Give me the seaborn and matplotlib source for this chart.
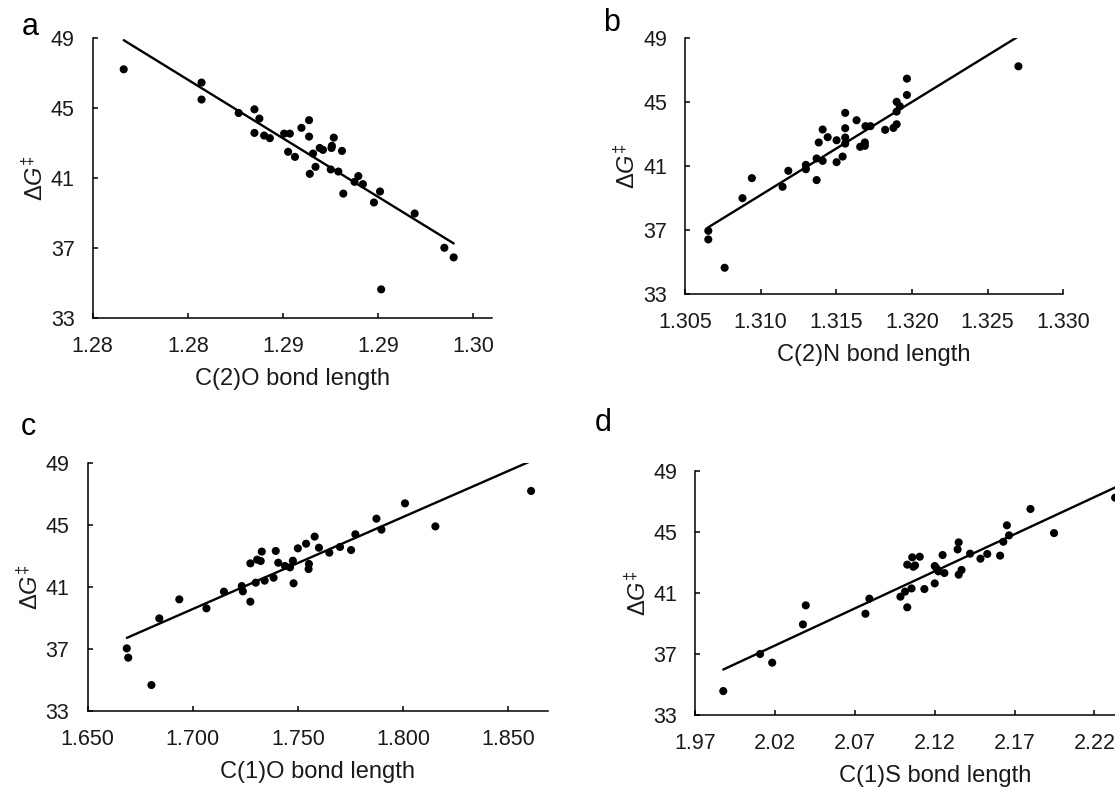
import matplotlib
matplotlib.use("Agg")
import matplotlib.pyplot as plt
import seaborn as sns
import pandas as pd

# ---------------- data ----------------
a_x = [1.27663, 1.28072, 1.28072, 1.28267, 1.28350, 1.28376, 1.28350, 1.28401, 1.28431, 1.28506,
       1.28536, 1.28527, 1.28563, 1.28597, 1.28637, 1.28637, 1.28658, 1.28641, 1.28671, 1.28693,
       1.28710, 1.28755, 1.28757, 1.28767, 1.28751, 1.28791, 1.28810, 1.28817, 1.28876, 1.28896,
       1.28920, 1.28978, 1.29010, 1.29016, 1.29192, 1.29348, 1.29397]
a_y = [47.21, 46.45, 45.48, 44.71, 44.92, 44.39, 43.57, 43.42, 43.27, 43.53,
       43.53, 42.49, 42.20, 43.86, 44.30, 43.36, 42.39, 41.23, 41.63, 42.71,
       42.60, 42.71, 42.83, 43.30, 41.48, 41.36, 42.54, 40.10, 40.77, 41.10,
       40.64, 39.59, 40.22, 34.62, 38.96, 37.00, 36.45]

b_x = [1.30654, 1.30654, 1.30762, 1.30880, 1.30942, 1.31145, 1.31183, 1.31299, 1.31299, 1.31370,
       1.31370, 1.31410, 1.31384, 1.31410, 1.31443, 1.31502, 1.31502, 1.31542, 1.31559, 1.31559,
       1.31559, 1.31559, 1.31634, 1.31658, 1.31689, 1.31689, 1.31693, 1.31726, 1.31823, 1.31878,
       1.31899, 1.31899, 1.31899, 1.31920, 1.31967, 1.31967, 1.32704]
b_y = [36.95, 36.41, 34.64, 38.99, 40.24, 39.70, 40.70, 41.07, 40.80, 40.12,
       41.47, 41.32, 42.47, 43.28, 42.80, 42.61, 41.24, 41.59, 44.32, 43.36,
       42.78, 42.40, 43.86, 42.20, 42.47, 42.26, 43.49, 43.49, 43.26, 43.38,
       43.61, 44.40, 45.01, 44.73, 45.44, 46.46, 47.23]

c_x = [1.66868, 1.66936, 1.68039, 1.68413, 1.69364, 1.70654, 1.71486, 1.72335, 1.72386, 1.72742,
       1.72742, 1.72997, 1.73065, 1.73234, 1.73285, 1.73421, 1.73846, 1.73948, 1.74067, 1.74389,
       1.74627, 1.74762, 1.74796, 1.75000, 1.75390, 1.75526, 1.75509, 1.75798, 1.76002, 1.76494,
       1.77003, 1.77530, 1.77733, 1.78735, 1.78973, 1.80093, 1.81537, 1.86087]
c_y = [37.03, 36.43, 34.66, 38.97, 40.20, 39.62, 40.70, 41.06, 40.72, 40.05,
       42.53, 41.28, 42.77, 42.68, 43.29, 41.41, 41.60, 43.33, 42.57, 42.36,
       42.27, 42.70, 41.24, 43.50, 43.80, 42.49, 42.16, 44.26, 43.54, 43.22,
       43.59, 43.39, 44.41, 45.42, 44.71, 46.41, 44.92, 47.21]

d_x = [1.98746, 2.01051, 2.01812, 2.03737, 2.03916, 2.07654, 2.07900, 2.09847, 2.10138, 2.10273,
       2.10273, 2.10541, 2.10586, 2.10653, 2.10765, 2.11056, 2.11347, 2.11996, 2.11996, 2.12108,
       2.12220, 2.12489, 2.12601, 2.13429, 2.13496, 2.13496, 2.13675, 2.14212, 2.14861, 2.15286,
       2.16092, 2.16293, 2.16517, 2.16652, 2.17994, 2.19472, 2.23299]
d_y = [34.55, 36.98, 36.41, 38.92, 40.17, 39.62, 40.61, 40.74, 41.07, 40.04,
       42.84, 41.28, 43.32, 42.70, 42.79, 43.36, 41.24, 41.61, 42.75, 42.60,
       42.40, 43.47, 42.29, 43.84, 44.30, 42.18, 42.49, 43.56, 43.23, 43.54,
       43.43, 44.34, 45.42, 44.76, 46.49, 44.91, 47.23]

y_ticks = [33, 37, 41, 45, 49]
y_tick_labels = ["33", "37", "41", "45", "49"]

a_ticks = [1.275, 1.280, 1.285, 1.290, 1.295]
a_tick_labels = ["1.28", "1.28", "1.29", "1.29", "1.30"]
b_ticks = [1.305, 1.310, 1.315, 1.320, 1.325, 1.330]
b_tick_labels = ["1.305", "1.310", "1.315", "1.320", "1.325", "1.330"]
c_ticks = [1.650, 1.700, 1.750, 1.800, 1.850]
c_tick_labels = ["1.650", "1.700", "1.750", "1.800", "1.850"]
d_ticks = [1.97, 2.02, 2.07, 2.12, 2.17, 2.22, 2.27]
d_tick_labels = ["1.97", "2.02", "2.07", "2.12", "2.17", "2.22", "2.27"]

x_labels = ["C(2)O bond length", "C(2)N bond length", "C(1)O bond length", "C(1)S bond length"]
panel_letters = ["a", "b", "c", "d"]

# ---------------- style ----------------
sns.set_style("ticks")
plt.rcParams["font.family"] = ["Liberation Sans", "DejaVu Sans"]
plt.rcParams["mathtext.fontset"] = "custom"
plt.rcParams["mathtext.rm"] = "Liberation Sans"
plt.rcParams["mathtext.it"] = "Liberation Sans:italic"

TXT = "#1a1a1a"
fig = plt.figure(figsize=(11.15, 7.88), dpi=100)

W, H = 1115.0, 788.0
def frac(left, right, top, bottom):
    return [left / W, 1 - bottom / H, (right - left) / W, (bottom - top) / H]

positions = [
    frac(92.7, 492.3, 38.0, 317.7),
    frac(685.0, 1063.2, 38.0, 294.0),
    frac(87.5, 548.2, 463.3, 710.7),
    frac(695.4, 1174.2, 470.7, 714.7),
]
xlims = [(1.275, 1.296), (1.305, 1.330), (1.650, 1.869), (1.97, 2.27)]
datasets = [(a_x, a_y), (b_x, b_y), (c_x, c_y), (d_x, d_y)]
tick_sets = [(a_ticks, a_tick_labels), (b_ticks, b_tick_labels),
             (c_ticks, c_tick_labels), (d_ticks, d_tick_labels)]
letter_pos = [(30, 27), (612, 23), (28, 427), (603, 423)]

for i in range(4):
    ax = fig.add_axes(positions[i])
    xs, ys = datasets[i]
    df = pd.DataFrame({"x": xs, "y": ys})
    sns.regplot(data=df, x="x", y="y", ax=ax, ci=None, truncate=True,
                scatter_kws=dict(s=34, color="black", alpha=1, edgecolor="none",
                                 zorder=3, clip_on=False),
                line_kws=dict(color="black", lw=1.7, zorder=2))
    ax.set_xlim(*xlims[i])
    ax.set_ylim(33, 49)
    ax.set_xticks(tick_sets[i][0])
    ax.set_xticklabels(tick_sets[i][1])
    ax.set_yticks(y_ticks)
    ax.set_yticklabels(y_tick_labels)
    for side in ["top", "right"]:
        ax.spines[side].set_visible(False)
    for side in ["left", "bottom"]:
        ax.spines[side].set_color("black")
        ax.spines[side].set_linewidth(1.1)
    ax.tick_params(direction="in", length=3.8, width=1.1, color="black",
                   labelsize=15.5, labelcolor=TXT, pad=13.0)
    ax.set_xlabel(x_labels[i], fontsize=17, color=TXT, labelpad=8)
    ax.set_ylabel(r"$\mathit{\Delta G}^{\mathit{‡}}$", fontsize=17, color=TXT, labelpad=2)
    fig.text(letter_pos[i][0] / W, 1 - letter_pos[i][1] / H, panel_letters[i],
             fontsize=22, color="black", ha="center", va="center")

fig.savefig("out.png", dpi=100)
